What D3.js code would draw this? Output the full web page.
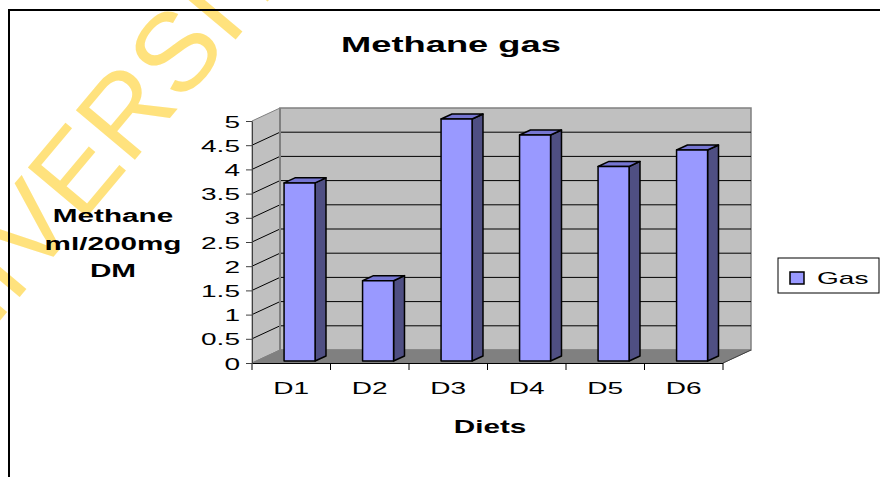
<!DOCTYPE html>
<html>
<head>
<meta charset="utf-8">
<script src="https://cdn.jsdelivr.net/npm/d3@7"></script>
<style>
  html, body { margin: 0; padding: 0; background: #fff; }
  svg { display: block; font-family: "Liberation Sans", Arial, sans-serif; }
</style>
</head>
<body>
<svg id="chart" width="880" height="477"></svg>
<script>
// ---- data ----
const categories = ["D1", "D2", "D3", "D4", "D5", "D6"];
const gasValues = [3.68, 1.66, 5.0, 4.67, 4.02, 4.36];
const yTickValues = [0, 0.5, 1, 1.5, 2, 2.5, 3, 3.5, 4, 4.5, 5];
const yTickLabels = ["0", "0.5", "1", "1.5", "2", "2.5", "3", "3.5", "4", "4.5", "5"];
const seriesName = "Gas";
const titleText = "Methane gas";
const yTitleLines = ["Methane", "ml/200mg", "DM"];
const xTitleText = "Diets";
const watermarkText = "UNIVERSITY";

// ---- layout ----
const SX = 1.65;           // horizontal stretch of the original picture's text
const DX = 28, DY = -13;   // 3-D depth offset
const svg = d3.select("#chart");

const x = d3.scaleBand().domain(categories).range([252, 723]);
const y = d3.scaleLinear().domain([0, 5]).range([363, 121]);

const x0 = x.range()[0], x1 = x.range()[1];
const yb = y(0), yt = y(5);

svg.append("rect").attr("width", 880).attr("height", 477).attr("fill", "#fff");

// watermark (behind the chart)
svg.append("text")
  .attr("transform", "translate(-91,429) rotate(-50)")
  .attr("font-size", 112)
  .attr("fill", "#FFE27D")
  .attr("font-family", "Liberation Sans, Arial, sans-serif")
  .text(watermarkText);

// walls
const walls = svg.append("g");
walls.append("polygon")
  .attr("points", [[x0, yb], [x0, yt], [x0 + DX, yt + DY], [x0 + DX, yb + DY]].join(" "))
  .attr("fill", "#C0C0C0").attr("stroke", "#808080").attr("stroke-width", 1);
walls.append("rect")
  .attr("x", x0 + DX).attr("y", yt + DY)
  .attr("width", x1 - x0).attr("height", yb - yt)
  .attr("fill", "#C0C0C0").attr("stroke", "#808080").attr("stroke-width", 1.5);
// floor
walls.append("polygon")
  .attr("points", [[x0, yb], [x1, yb], [x1 + DX, yb + DY], [x0 + DX, yb + DY]].join(" "))
  .attr("fill", "#808080").attr("stroke", "#808080").attr("stroke-width", 1);

// gridlines
const grid = svg.append("g").attr("stroke", "#000").attr("stroke-width", 1);
yTickValues.filter(v => v > 0 && v < 5).forEach(v => {
  grid.append("line")
    .attr("x1", x0 + DX).attr("x2", x1 + DX)
    .attr("y1", y(v) + DY).attr("y2", y(v) + DY);
  grid.append("line")
    .attr("x1", x0).attr("x2", x0 + DX)
    .attr("y1", y(v)).attr("y2", y(v) + DY);
});
svg.append("line")
  .attr("x1", x0 + DX).attr("x2", x0 + DX)
  .attr("y1", yt + DY).attr("y2", yb + DY)
  .attr("stroke", "#808080").attr("stroke-width", 2);
// floor right edge
svg.append("line")
  .attr("x1", x1).attr("y1", yb).attr("x2", x1 + DX).attr("y2", yb + DY)
  .attr("stroke", "#404040").attr("stroke-width", 1);

// y axis
const yAxis = svg.append("g")
  .attr("transform", `translate(${x0},0)`)
  .call(d3.axisLeft(y).tickValues(yTickValues).tickSize(6).tickSizeOuter(0)
    .tickFormat((d, i) => yTickLabels[i]));
yAxis.select(".domain").attr("stroke", "#404040");
yAxis.selectAll(".tick line").attr("stroke", "#404040");
yAxis.selectAll(".tick text")
  .attr("x", -12 / SX).attr("dy", "0.36em")
  .attr("transform", `scale(${SX},1)`)
  .attr("font-size", 17).attr("fill", "#000")
  .attr("font-family", "Liberation Sans, Arial, sans-serif");

// x axis
const xAxis = svg.append("g")
  .attr("transform", `translate(0,${yb})`)
  .call(d3.axisBottom(x).tickSize(0).tickSizeOuter(0).tickPadding(19));
xAxis.select(".domain").attr("stroke", "#000").attr("stroke-width", 1.2);
xAxis.selectAll(".tick text")
  .attr("transform", `scale(${SX},1)`)
  .attr("font-size", 17).attr("fill", "#000")
  .attr("font-family", "Liberation Sans, Arial, sans-serif");
// boundary ticks
const bounds = categories.map(c => x(c)).concat([x1]);
xAxis.selectAll(".btick").data(bounds).join("line")
  .attr("class", "btick")
  .attr("x1", d => d).attr("x2", d => d)
  .attr("y1", 1).attr("y2", 7)
  .attr("stroke", "#000").attr("stroke-width", 1);

// bars
const f0 = 0.15, fd = 0.39;
const bw = x.bandwidth() * 0.395;
const ddx = DX * fd, ddy = DY * fd;
const bars = svg.append("g").attr("stroke", "#000").attr("stroke-width", 1.5)
  .attr("stroke-linejoin", "round");
categories.forEach((c, i) => {
  const v = gasValues[i];
  const bx = x(c) + x.bandwidth() * 0.355 + DX * f0;
  const ty = y(v) + DY * f0;
  const by = y(0) + DY * f0;
  const g = bars.append("g");
  g.append("polygon")
    .attr("points", [[bx + bw, ty], [bx + bw + ddx, ty + ddy], [bx + bw + ddx, by + ddy], [bx + bw, by]].join(" "))
    .attr("fill", "#4F4F83");
  g.append("polygon")
    .attr("points", [[bx, ty], [bx + ddx, ty + ddy], [bx + bw + ddx, ty + ddy], [bx + bw, ty]].join(" "))
    .attr("fill", "#7676D2");
  g.append("rect")
    .attr("x", bx).attr("y", ty).attr("width", bw).attr("height", by - ty)
    .attr("fill", "#9999FF");
});

// titles
function stretchedText(px, py, txt, size, weight, anchor) {
  return svg.append("text")
    .attr("transform", `translate(${px},${py}) scale(${SX},1)`)
    .attr("text-anchor", anchor || "middle")
    .attr("font-size", size).attr("font-weight", weight || "normal")
    .attr("fill", "#000").text(txt);
}
stretchedText(451, 52, titleText, 22, "bold");
yTitleLines.forEach((t, i) => stretchedText(113, 222 + i * 27.5, t, 18, "bold"));
stretchedText(490, 433, xTitleText, 18, "bold");

// legend
const lg = svg.append("g");
lg.append("rect").attr("x", 778).attr("y", 258).attr("width", 101).attr("height", 35)
  .attr("fill", "#fff").attr("stroke", "#000").attr("stroke-width", 1);
lg.append("rect").attr("x", 790).attr("y", 272).attr("width", 14).attr("height", 12)
  .attr("fill", "#9999FF").attr("stroke", "#000").attr("stroke-width", 1.5);
stretchedText(817, 284, seriesName, 17, "normal", "start");

// outer border
svg.append("rect").attr("x", 9).attr("y", 10).attr("width", 900).attr("height", 500)
  .attr("fill", "none").attr("stroke", "#000").attr("stroke-width", 2);
</script>
</body>
</html>
